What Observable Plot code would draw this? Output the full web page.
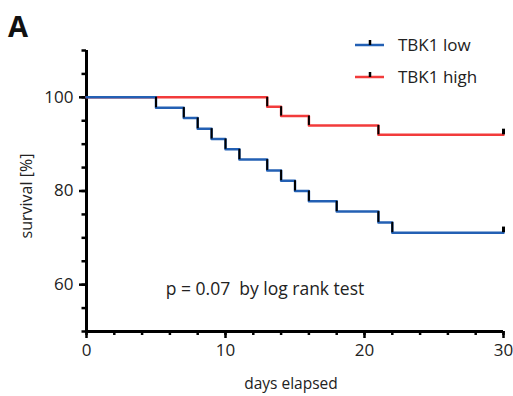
<!DOCTYPE html>
<html>
<head>
<meta charset="utf-8">
<script src="https://cdn.jsdelivr.net/npm/d3@7"></script>
<script src="https://cdn.jsdelivr.net/npm/@observablehq/plot@0.6"></script>
<style>
  html, body { margin: 0; padding: 0; background: #fff; }
  #chart { width: 513px; height: 396px; }
</style>
</head>
<body>
<div id="chart"></div>
<script>
// Data (Kaplan–Meier steps)
const lowDays  = [0, 5, 7, 8, 9, 10, 11, 13, 14, 15, 16, 18, 21, 22, 30];
const lowSurv  = [100, 97.8, 95.6, 93.3, 91.1, 88.9, 86.7, 84.4, 82.2, 80, 77.8, 75.6, 73.3, 71.1, 71.1];
const highDays = [0, 13, 14, 16, 21, 30];
const highSurv = [100, 98, 96, 94, 92, 92];
const seriesNames = ["TBK1 low", "TBK1 high"];
const seriesColors = ["#2360b4", "#f23b3b"];
const yMajorTicks = [60, 80, 100];
const xMajorTicks = [0, 10, 20, 30];
const annotation = "p = 0.07  by log rank test";

function toRows(days, surv, name) {
  return days.map((d, i) => ({day: d, surv: surv[i], name}));
}
function risers(days, surv) {
  const out = [];
  for (let i = 1; i < days.length; i++) {
    if (surv[i] < surv[i - 1]) out.push({day: days[i], from: surv[i - 1], to: surv[i]});
  }
  return out;
}
const low = toRows(lowDays, lowSurv, seriesNames[0]);
const high = toRows(highDays, highSurv, seriesNames[1]);
const ends = [low[low.length - 1], high[high.length - 1]];
const allRisers = [...risers(highDays, highSurv), ...risers(lowDays, lowSurv)];

const plot = Plot.plot({
  width: 513,
  height: 396,
  marginLeft: 86,
  marginRight: 10,
  marginTop: 50,
  marginBottom: 65,
  style: {fontFamily: "Open Sans", fontSize: "16px", color: "#222", background: "#fff"},
  x: {domain: [0, 30]},
  y: {domain: [50, 110]},
  marks: [
    Plot.axisY(d3.range(50, 111, 5), {tickSize: 4.5, tickFormat: () => "", strokeWidth: 2.5, stroke: "#000", label: null}),
    Plot.axisY(yMajorTicks, {tickSize: 7, tickPadding: 6, strokeWidth: 2.5, stroke: "#000", label: null, fontSize: 17}),
    Plot.axisX(d3.range(0, 31, 2), {tickSize: 4, tickFormat: () => "", strokeWidth: 2.5, stroke: "#000", label: null}),
    Plot.axisX(xMajorTicks, {tickSize: 7, tickPadding: 5, strokeWidth: 2.5, stroke: "#000", label: null, fontSize: 17}),
    Plot.ruleX([0], {y1: 50, y2: 110, stroke: "#000", strokeWidth: 3}),
    Plot.ruleY([50], {x1: 0, x2: 30, stroke: "#000", strokeWidth: 3}),
    Plot.line(high, {x: "day", y: "surv", curve: "step-after", stroke: seriesColors[1], strokeWidth: 2.5}),
    Plot.line(low, {x: "day", y: "surv", curve: "step-after", stroke: seriesColors[0], strokeWidth: 2.5}),
    Plot.ruleX(allRisers, {x: "day", y1: "from", y2: "to", stroke: "#000", strokeWidth: 2}),
    Plot.ruleX(ends, {x: "day", y1: "surv", y2: d => d.surv + 1.2, stroke: "#000", strokeWidth: 3}),
    Plot.text([annotation], {x: 5.7, y: 57.7, text: d => d, textAnchor: "start", lineAnchor: "bottom", fontSize: 17.5, fill: "#222"})
  ]
});

document.getElementById("chart").appendChild(plot);

// Extra labels and legend
const svg = d3.select(plot);
svg.append("text").attr("x", 8).attr("y", 37).attr("text-anchor", "start").text("A")
  .attr("font-family", "Open Sans").attr("font-weight", "bold").attr("font-size", 29).attr("fill", "#111");
svg.append("text").attr("transform", "translate(32,196) rotate(-90)").attr("text-anchor", "middle")
  .attr("font-family", "Open Sans").attr("font-size", 16).attr("fill", "#222").text("survival [%]");
svg.append("text").attr("x", 291).attr("y", 389).attr("text-anchor", "middle")
  .attr("font-family", "Open Sans").attr("font-size", 15.5).attr("fill", "#222").text("days elapsed");

const legend = svg.append("g");
seriesNames.forEach((name, i) => {
  const y = 45 + i * 32;
  legend.append("line").attr("x1", 355).attr("x2", 384).attr("y1", y).attr("y2", y)
    .attr("stroke", seriesColors[i]).attr("stroke-width", 2.5);
  legend.append("line").attr("x1", 370).attr("x2", 370).attr("y1", y - 5).attr("y2", y)
    .attr("stroke", "#000").attr("stroke-width", 2.5);
  legend.append("text").attr("x", 398).attr("y", y).attr("dy", "0.35em").attr("text-anchor", "start")
    .attr("font-family", "Open Sans").attr("font-size", 17).attr("fill", "#222").text(name);
});
</script>
</body>
</html>
